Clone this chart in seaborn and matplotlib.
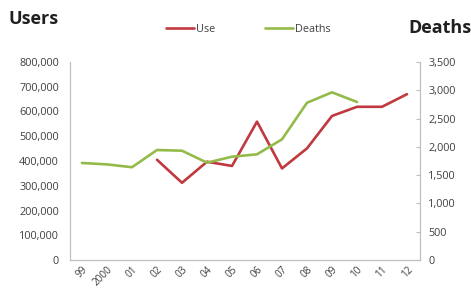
import pandas as pd
import numpy as np
import seaborn as sns
import matplotlib.pyplot as plt

years = ['99', '2000', '01', '02', '03', '04', '05', '06', '07', '08', '09', '10', '11', '12']
use = [np.nan, np.nan, np.nan, 405000, 312000, 397000, 380000, 559000, 370000, 451000, 582000, 619000, 619000, 670000]
deaths = [1715, 1690, 1640, 1944, 1932, 1720, 1826, 1868, 2133, 2780, 2964, 2793, np.nan, np.nan]

red = '#c0393f'
green = '#94bb4a'
grey = '#bfbfbf'
txt = '#404040'

df = pd.DataFrame({'pos': range(len(years)), 'year': years, 'use': use, 'deaths': deaths})

sns.set_style('white')
plt.rcParams['font.family'] = ['Open Sans', 'DejaVu Sans']

fig = plt.figure(figsize=(4.71, 2.91), dpi=100)
ax = fig.add_axes([70/471, 1 - 260/291, 350/471, 198/291])
ax2 = ax.twinx()

sns.lineplot(data=df.dropna(subset=['use']), x='pos', y='use', ax=ax, color=red, lw=1.9, label='Use', legend=False)
sns.lineplot(data=df.dropna(subset=['deaths']), x='pos', y='deaths', ax=ax2, color=green, lw=1.9, label='Deaths', legend=False)

ax.set_xlim(-0.48, 13.52)
ax.set_ylim(0, 800000)
ax2.set_ylim(0, 3500)
ax.set_xticks(df['pos'])
ax.set_xticklabels(years, rotation=45, fontsize=7.2, color=txt, ha='right', rotation_mode='anchor')
ax.set_yticks(range(0, 800001, 100000))
ax.set_yticklabels([f'{v:,}' for v in range(0, 800001, 100000)], fontsize=7.8, color=txt)
ax2.set_yticks(range(0, 3501, 500))
ax2.set_yticklabels([f'{v:,}' for v in range(0, 3501, 500)], fontsize=7.8, color=txt)
ax.set_xlabel('')
ax.set_ylabel('')
ax2.set_ylabel('')

for a in (ax, ax2):
    for s in a.spines.values():
        s.set_color(grey)
        s.set_linewidth(0.8)
    a.spines['top'].set_visible(False)
ax.tick_params(axis='y', length=0, pad=8)
ax.tick_params(axis='x', length=0, pad=3)
ax2.tick_params(axis='y', length=3, direction='in', color=grey, pad=6)

fig.text(9/471, 1 - 19/291, 'Users', fontsize=13, fontweight='bold', color='#202020', va='center')
fig.text(471/471, 1 - 28/291, 'Deaths', fontsize=13, fontweight='bold', color='#202020', va='center', ha='right')

h1, l1 = ax.get_legend_handles_labels()
h2, l2 = ax2.get_legend_handles_labels()
fig.legend(h1 + h2, l1 + l2, loc='center', bbox_to_anchor=(248/471, 1 - 29/291), ncol=2,
           frameon=False, fontsize=7.8, handlelength=2.6, handletextpad=0.15, columnspacing=4.6,
           labelcolor=txt)

fig.savefig('out.png', dpi=100)
